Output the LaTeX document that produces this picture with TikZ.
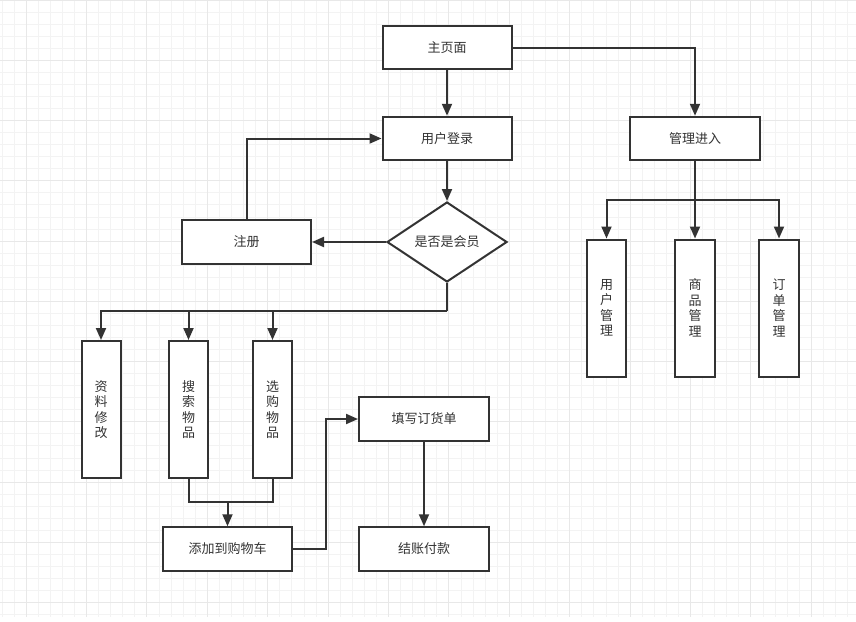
\documentclass[tikz,border=0pt]{standalone}
\usepackage{fontspec}
\newfontfamily\cjk{Noto Sans CJK SC}
\usetikzlibrary{arrows.meta,shapes.geometric}
\definecolor{ink}{HTML}{333333}
\definecolor{gminor}{HTML}{F3F3F3}
\definecolor{gmajor}{HTML}{E8E8E8}
\tikzset{
  box/.style={draw=ink, line width=2pt, fill=white, rectangle, inner sep=0pt,
    text=ink, font=\cjk\fontsize{13}{15.5}\selectfont, align=center},
  vbox/.style={box, minimum width=39pt, minimum height=137pt},
  hbox/.style={box, minimum width=129pt, minimum height=43.5pt},
  dia/.style={draw=ink, line width=2pt, fill=white, diamond, aspect=1.5, inner sep=0pt,
    minimum width=120pt, minimum height=80pt, text=ink, font=\cjk\fontsize{13}{15.5}\selectfont},
  arr/.style={draw=ink, line width=2pt, -{Triangle[length=12pt,width=10pt]}},
  ln/.style={draw=ink, line width=2pt},
  gminorln/.style={draw=gminor, line width=0.8pt},
  gmajorln/.style={draw=gmajor, line width=1pt}
}
\begin{document}
\begin{tikzpicture}[x=1pt,y=-1pt]
\useasboundingbox (0,0) rectangle (856,621);
\fill[white] (0,0) rectangle (856,621);
% grid
\foreach \i in {0,...,70} {
  \pgfmathsetmacro\xx{1.9+12.08*\i}
  \draw[gminorln] (\xx,0) -- (\xx,617);
}
\foreach \j in {0,...,51} {
  \pgfmathsetmacro\yy{12.05*\j}
  \draw[gminorln] (0,\yy) -- (856,\yy);
}
\foreach \i in {0,...,13} {
  \pgfmathsetmacro\xx{26+60.4*\i}
  \draw[gmajorln] (\xx,0) -- (\xx,617);
}
\foreach \j in {0,...,10} {
  \pgfmathsetmacro\yy{60.25*\j}
  \draw[gmajorln] (0,\yy) -- (856,\yy);
}
% nodes
\node[hbox] (home)  at (447,47.5)  {主页面};
\node[hbox] (login) at (447,138.5) {用户登录};
\node[hbox, minimum width=130pt] (admin) at (695,138.5) {管理进入};
\node[hbox] (reg)   at (246.5,242) {注册};
\node[dia]  (member) at (447,242) {是否是会员};
\node[vbox] (uman) at (606.5,308) {用\\户\\管\\理};
\node[vbox, minimum width=40pt] (gman) at (695,308) {商\\品\\管\\理};
\node[vbox, minimum width=40pt] (oman) at (779,308) {订\\单\\管\\理};
\node[vbox] (ziliao) at (101,409.5) {资\\料\\修\\改};
\node[vbox] (search) at (188.5,409.5) {搜\\索\\物\\品};
\node[vbox] (choose) at (272.5,409.5) {选\\购\\物\\品};
\node[hbox] (cart)  at (227.5,549) {添加到购物车};
\node[hbox, minimum width=130pt] (order) at (424,419) {填写订货单};
\node[hbox, minimum width=130pt] (pay)   at (424,549) {结账付款};
% helper coordinates
\coordinate (abr) at (695,200);
\coordinate (mbr) at (447,311);
\coordinate (mg) at (228,502);
\coordinate (cbend) at (326,549);
% connectors
\draw[arr] (home.south) -- (login.north);
\draw[arr] (home.east) -| (admin.north);
\draw[arr] (login.south) -- (member.north);
\draw[arr] (member.west) -- (reg.east);
\draw[arr] (reg.north) |- (login.west);
\draw[arr] (admin.south) -- (gman.north);
\draw[arr] (abr) -| (uman.north);
\draw[arr] (abr) -| (oman.north);
\draw[ln] (member.south) -- (mbr);
\draw[arr] (mbr) -| (ziliao.north);
\draw[arr] (mbr) -| (search.north);
\draw[arr] (mbr) -| (choose.north);
\draw[ln] (search.south) |- (mg) -| (choose.south);
\draw[arr] (mg) -- (cart.north |- mg) -- (cart.north);
\draw[arr] (cart.east) -- (cbend) |- (order.west);
\draw[arr] (order.south) -- (pay.north);
\end{tikzpicture}
\end{document}
